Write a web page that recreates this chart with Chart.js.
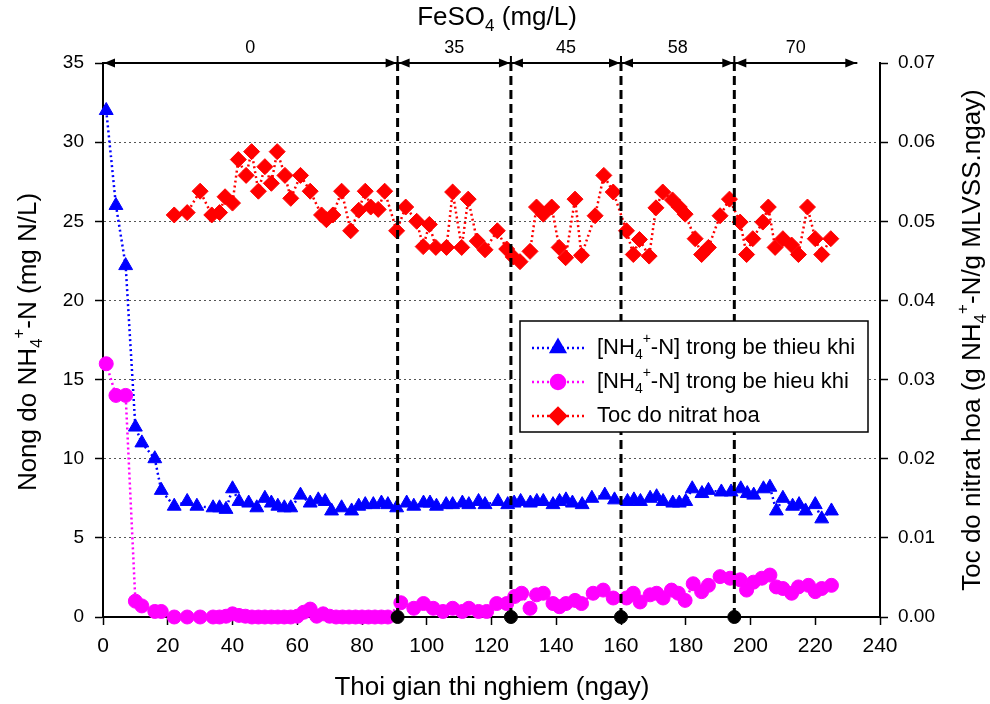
<!DOCTYPE html>
<html>
<head>
<meta charset="utf-8">
<script src="https://cdn.jsdelivr.net/npm/chart.js@4.4.0/dist/chart.umd.min.js"></script>
<style>
html, body { margin: 0; padding: 0; background: #fff; }
#wrap { width: 990px; height: 704px; }
</style>
</head>
<body>
<div id="wrap"><canvas id="myChart" width="990" height="704"></canvas></div>
<script>
// [NH4+-N] in the anoxic tank (mg N/L)
const anoxicDays = [1, 4, 7, 10, 12, 16, 18, 22, 26, 29, 34, 36, 38, 40, 42, 45, 47.5, 50, 52, 54, 56, 58, 61, 64, 66.5, 68.6, 70.6, 73.7, 76.8, 79, 81, 83.5, 86, 88, 90.7, 93.8, 96, 99, 101, 103, 106, 108, 111, 113, 116, 118, 122, 125, 127, 129, 132, 134, 136, 139, 141, 143, 145, 148, 151, 155, 158, 162, 164, 166, 169, 171, 173, 176, 178, 180, 182, 185, 187, 191, 194, 197, 199, 201, 204, 206, 208, 210, 213, 215, 217, 220, 222, 225];
const anoxicNH4 = [32, 26, 22.2, 12, 11, 10, 8, 7, 7.3, 7.0, 6.9, 6.9, 6.8, 8.1, 7.3, 7.2, 6.9, 7.5, 7.2, 7.0, 6.9, 6.9, 7.7, 7.2, 7.4, 7.3, 6.7, 6.9, 6.7, 7.0, 7.1, 7.1, 7.2, 7.1, 6.9, 7.2, 7.0, 7.2, 7.2, 7.0, 7.1, 7.1, 7.2, 7.1, 7.3, 7.1, 7.3, 7.1, 7.2, 7.3, 7.2, 7.3, 7.3, 7.1, 7.3, 7.4, 7.2, 7.1, 7.5, 7.7, 7.4, 7.3, 7.4, 7.3, 7.5, 7.6, 7.3, 7.2, 7.2, 7.3, 8.1, 7.8, 8.0, 7.9, 7.9, 8.1, 7.8, 7.7, 8.1, 8.2, 6.7, 7.5, 7.0, 7.1, 6.7, 7.1, 6.2, 6.7];

// [NH4+-N] in the aerobic tank (mg N/L)
const aerobicDays = [1, 4, 7, 10, 12, 16, 18, 22, 26, 30, 34, 36, 38, 40, 42, 44, 46, 48, 50, 52, 54, 56, 58, 60, 62, 64, 66, 68, 70, 72, 74, 76, 78, 80, 82, 84, 86, 88, 92, 96, 99, 102, 105, 108, 111, 113, 116, 118.5, 121.6, 124.7, 127.2, 129.3, 131.9, 133.9, 136, 139, 141, 143, 145.8, 147.8, 151.4, 154.5, 157.6, 161.7, 163.8, 165.9, 169, 171, 173, 175.6, 177.7, 179.8, 182.3, 184.9, 187, 190.6, 193.7, 196.8, 198.8, 200.9, 203.5, 206, 208, 210, 212.7, 214.8, 217.9, 220, 222, 225];
const aerobicNH4 = [16, 14, 14, 1.0, 0.7, 0.35, 0.35, 0, 0, 0, 0, 0, 0.05, 0.2, 0.1, 0.05, 0, 0, 0, 0, 0, 0, 0, 0.05, 0.3, 0.5, 0.05, 0.2, 0.05, 0, 0, 0, 0, 0, 0, 0, 0, 0, 0.9, 0.55, 0.85, 0.55, 0.35, 0.55, 0.35, 0.55, 0.35, 0.35, 0.85, 0.85, 1.3, 1.5, 0.55, 1.4, 1.5, 0.85, 0.65, 0.85, 1.05, 0.85, 1.5, 1.7, 1.2, 1.2, 1.5, 0.95, 1.4, 1.5, 1.2, 1.7, 1.5, 1.05, 2.1, 1.6, 2.0, 2.55, 2.45, 2.35, 1.7, 2.2, 2.45, 2.65, 1.9, 1.8, 1.5, 1.9, 2.0, 1.6, 1.8, 2.0];

// nitrification rate (g NH4+-N / g MLVSS.ngay)
const nitrDays = [22, 26, 30, 33.6, 36, 37.7, 40, 41.8, 44.2, 45.9, 48, 50, 52, 53.8, 56.2, 58, 61, 64, 67.5, 69, 71, 73.7, 76.5, 79, 81, 82.7, 85, 87, 90.7, 93.5, 96.9, 98.9, 100.8, 102.8, 106.1, 108, 110.8, 112.8, 115.6, 118, 121.8, 124.7, 126.7, 128.8, 131.9, 133.9, 136, 138.6, 140.9, 142.9, 145.8, 147.8, 152, 154.7, 157.6, 161.7, 163.8, 165.7, 168.7, 170.8, 172.9, 175.9, 178, 179.8, 182.9, 184.9, 187, 190.6, 193.5, 196.8, 198.8, 200.7, 203.8, 205.5, 207.6, 210, 212.7, 214.8, 217.6, 220, 222, 224.8];
const nitrRate = [0.0508, 0.0511, 0.0538, 0.0508, 0.0511, 0.0531, 0.0523, 0.0578, 0.0558, 0.0588, 0.0538, 0.0569, 0.0548, 0.0588, 0.0558, 0.0529, 0.0558, 0.0538, 0.0508, 0.0502, 0.0508, 0.0538, 0.0488, 0.0514, 0.0538, 0.0518, 0.0515, 0.0538, 0.0488, 0.0518, 0.0500, 0.0468, 0.0496, 0.0467, 0.0467, 0.0537, 0.0467, 0.0528, 0.0475, 0.0464, 0.0488, 0.0465, 0.0455, 0.0449, 0.0462, 0.0518, 0.0509, 0.0518, 0.0467, 0.0454, 0.0528, 0.0457, 0.0507, 0.0558, 0.0537, 0.0488, 0.0458, 0.0477, 0.0456, 0.0517, 0.0537, 0.0527, 0.0518, 0.0509, 0.0478, 0.0458, 0.0467, 0.0507, 0.0528, 0.0499, 0.0458, 0.0478, 0.0499, 0.0518, 0.0467, 0.0478, 0.0470, 0.0458, 0.0518, 0.0478, 0.0458, 0.0478];

// FeSO4 dosing periods (mg/L)
const phaseEdges = [0, 91, 126, 160, 195, 233];
const feso4Doses = ['0', '35', '45', '58', '70'];

const xTicks = [0, 20, 40, 60, 80, 100, 120, 140, 160, 180, 200, 220, 240];

const FONT = "'Liberation Sans', Arial, sans-serif";
Chart.defaults.font.family = FONT;
Chart.defaults.color = '#000';

function pts(xs, ys) {
	return xs.map(function(x, i) { return {x: x, y: ys[i]}; });
}

// text with sub/superscripts, parts = [[text, 'n'|'sub'|'sup'], ...]
function richWidth(ctx, parts, size) {
	let w = 0;
	for (const p of parts) {
		ctx.font = (p[1] == 'n' ? size : Math.round(size * 0.65)) + 'px ' + FONT;
		w += ctx.measureText(p[0]).width;
	}
	return w;
}
function drawRich(ctx, parts, x, y, size, align) {
	let w = richWidth(ctx, parts, size);
	let cx = align == 'left' ? x : x - w / 2;
	ctx.textBaseline = 'middle';
	ctx.textAlign = 'left';
	for (const p of parts) {
		let s = p[1] == 'n' ? size : Math.round(size * 0.65);
		let dy = 0;
		if (p[1] == 'sub') dy = size * 0.32;
		if (p[1] == 'sup') dy = -size * 0.38;
		ctx.font = s + 'px ' + FONT;
		ctx.fillText(p[0], cx, y + dy);
		cx += ctx.measureText(p[0]).width;
	}
}

const legendItems = [
	{parts: [['[NH', 'n'], ['4', 'sub'], ['+', 'sup'], ['-N] trong be thieu khi', 'n']], color: '#0000ff', style: 'triangle', r: 8},
	{parts: [['[NH', 'n'], ['4', 'sub'], ['+', 'sup'], ['-N] trong be hieu khi', 'n']], color: '#ff00ff', style: 'circle', r: 7},
	{parts: [['Toc do nitrat hoa', 'n']], color: '#ff0000', style: 'rectRot', r: 8}
];

const overlay = {
	id: 'overlay',
	afterDraw(chart) {
		const ctx = chart.ctx;
		const xs = chart.scales.x, ys = chart.scales.y;
		const top = ys.getPixelForValue(35);
		ctx.save();
		ctx.fillStyle = '#000';
		ctx.strokeStyle = '#000';
		// dosing period arrows
		for (let i = 0; i < feso4Doses.length; i++) {
			let x1 = xs.getPixelForValue(phaseEdges[i]);
			let x2 = xs.getPixelForValue(phaseEdges[i + 1]);
			ctx.lineWidth = 2;
			ctx.setLineDash([]);
			ctx.beginPath();
			ctx.moveTo(x1, top);
			ctx.lineTo(x2, top);
			ctx.stroke();
			ctx.beginPath();
			ctx.moveTo(x1 + 1, top);
			ctx.lineTo(x1 + 12, top - 4.5);
			ctx.lineTo(x1 + 12, top + 4.5);
			ctx.closePath();
			ctx.fill();
			ctx.beginPath();
			ctx.moveTo(x2 - 1, top);
			ctx.lineTo(x2 - 12, top - 4.5);
			ctx.lineTo(x2 - 12, top + 4.5);
			ctx.closePath();
			ctx.fill();
			if (i > 0) {
				ctx.beginPath();
				ctx.moveTo(x1, top - 7);
				ctx.lineTo(x1, top + 2);
				ctx.stroke();
			}
			ctx.font = '18px ' + FONT;
			ctx.textAlign = 'center';
			ctx.textBaseline = 'middle';
			ctx.fillText(feso4Doses[i], (x1 + x2) / 2, top - 15);
		}

		// titles
		drawRich(ctx, [['FeSO', 'n'], ['4', 'sub'], [' (mg/L)', 'n']], 497, 18, 26, 'center');
		drawRich(ctx, [['Thoi gian thi nghiem (ngay)', 'n']], 492, 688, 26, 'center');
		ctx.save();
		ctx.translate(29, 342);
		ctx.rotate(-Math.PI / 2);
		drawRich(ctx, [['Nong do NH', 'n'], ['4', 'sub'], ['+', 'sup'], ['-N (mg N/L)', 'n']], 0, 0, 26, 'center');
		ctx.restore();
		ctx.save();
		ctx.translate(973, 340);
		ctx.rotate(-Math.PI / 2);
		drawRich(ctx, [['Toc do nitrat hoa (g NH', 'n'], ['4', 'sub'], ['+', 'sup'], ['-N/g MLVSS.ngay)', 'n']], 0, 0, 26, 'center');
		ctx.restore();

		// legend
		const lx = 520, ly = 321, lw = 348, lh = 111;
		ctx.fillStyle = '#fff';
		ctx.fillRect(lx, ly, lw, lh);
		ctx.lineWidth = 1.5;
		ctx.strokeStyle = '#000';
		ctx.strokeRect(lx, ly, lw, lh);
		legendItems.forEach(function(item, k) {
			let y = ly + 27 + k * 34;
			ctx.strokeStyle = item.color;
			ctx.lineWidth = 2.5;
			ctx.setLineDash([2, 3]);
			ctx.beginPath();
			ctx.moveTo(lx + 12, y);
			ctx.lineTo(lx + 64, y);
			ctx.stroke();
			ctx.setLineDash([]);
			ctx.fillStyle = item.color;
			Chart.helpers.drawPoint(ctx, {pointStyle: item.style, radius: item.r, rotation: 0, borderWidth: 1}, lx + 38, y);
			ctx.fillStyle = '#000';
			drawRich(ctx, item.parts, lx + 77, y, 22, 'left');
		});
		ctx.restore();
	}
};

const datasets = [];
phaseEdges.slice(1, -1).forEach(function(d) {
	datasets.push({
		data: [{x: d, y: 0}, {x: d, y: 35}],
		yAxisID: 'y',
		borderColor: '#000',
		borderWidth: 3,
		borderDash: [9, 5],
		pointRadius: 0,
		clip: false
	});
});
datasets.push({
	data: phaseEdges.slice(1, -1).map(function(d) { return {x: d, y: 0}; }),
	yAxisID: 'y',
	showLine: false,
	pointRadius: 6.5,
	pointBackgroundColor: '#000',
	pointBorderColor: '#000',
	clip: false
});
datasets.push({
	label: 'Toc do nitrat hoa',
	data: pts(nitrDays, nitrRate),
	yAxisID: 'y1',
	borderColor: '#ff0000',
	backgroundColor: '#ff0000',
	borderWidth: 2.5,
	borderDash: [2, 3],
	pointStyle: 'rectRot',
	pointRadius: 8,
	pointBorderWidth: 1,
	clip: false
});
datasets.push({
	label: '[NH4+-N] trong be hieu khi',
	data: pts(aerobicDays, aerobicNH4),
	yAxisID: 'y',
	borderColor: '#ff00ff',
	backgroundColor: '#ff00ff',
	borderWidth: 2.5,
	borderDash: [2, 3],
	pointStyle: 'circle',
	pointRadius: 7,
	pointBorderWidth: 1,
	clip: false
});
datasets.push({
	label: '[NH4+-N] trong be thieu khi',
	data: pts(anoxicDays, anoxicNH4),
	yAxisID: 'y',
	borderColor: '#0000ff',
	backgroundColor: '#0000ff',
	borderWidth: 2.5,
	borderDash: [2, 3],
	pointStyle: 'triangle',
	pointRadius: 8,
	pointBorderWidth: 1,
	clip: false
});

let ctx = document.getElementById('myChart').getContext('2d');
let myChart = new Chart(ctx, {
	type: 'line',
	data: {datasets: datasets},
	plugins: [overlay],
	options: {
		responsive: false,
		animation: false,
		layout: {padding: {top: 63, left: 0, right: 0, bottom: 0}},
		plugins: {
			legend: {display: false},
			tooltip: {enabled: false}
		},
		elements: {line: {tension: 0}},
		scales: {
			x: {
				type: 'linear',
				min: 0,
				max: 240,
				afterBuildTicks: function(scale) { scale.ticks = xTicks.map(function(v) { return {value: v}; }); },
				afterFit: function(scale) { scale.height = 87; },
				ticks: {font: {size: 21}, padding: 9, autoSkip: false, maxRotation: 0},
				grid: {drawOnChartArea: false, tickLength: 8, tickColor: '#000', tickWidth: 1.5},
				border: {color: '#000', width: 2}
			},
			y: {
				type: 'linear',
				position: 'left',
				min: 0,
				max: 35,
				afterFit: function(scale) { scale.width = 103; },
				ticks: {stepSize: 5, font: {size: 19}, padding: 11},
				grid: {
					color: function(c) { return (c.tick && (c.tick.value == 0 || c.tick.value == 35)) ? 'rgba(0,0,0,0)' : '#555'; },
					lineWidth: 1,
					tickLength: 8,
					tickColor: '#000',
					tickWidth: 1.5
				},
				border: {color: '#000', width: 2, dash: [2, 3]}
			},
			y1: {
				type: 'linear',
				position: 'right',
				min: 0,
				max: 0.07,
				afterFit: function(scale) { scale.width = 110; },
				ticks: {stepSize: 0.01, font: {size: 19}, padding: 10, callback: function(v) { return v.toFixed(2); }},
				grid: {drawOnChartArea: false, tickLength: 8, tickColor: '#000', tickWidth: 1.5},
				border: {color: '#000', width: 2}
			}
		}
	}
});
</script>
</body>
</html>
